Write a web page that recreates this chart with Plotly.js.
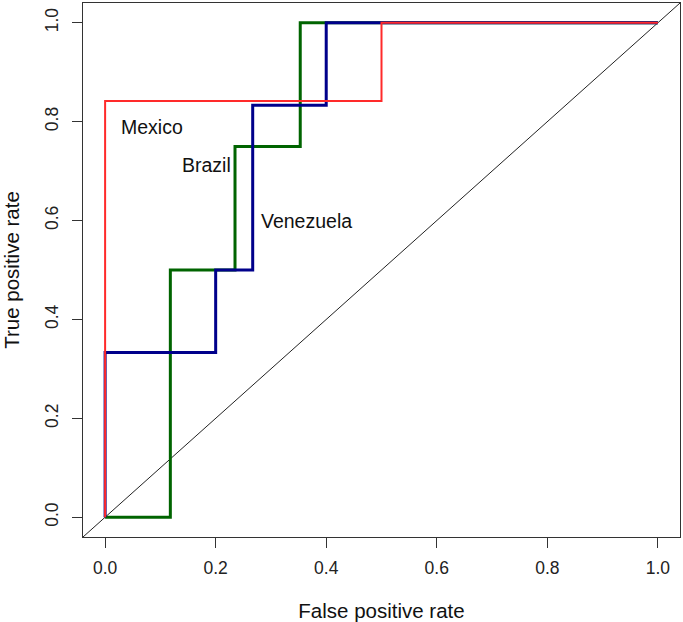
<!DOCTYPE html>
<html>
<head>
<meta charset="utf-8">
<script src="https://cdn.plot.ly/plotly-3.0.1.min.js"></script>
<style>html,body{margin:0;padding:0;background:#fff;}#chart{width:683px;height:622px;}</style>
</head>
<body>
<div id="chart"></div>
<script>
// ROC curve step points (false positive rate, true positive rate)
const mexicoFPR = [0, 0, 0.5, 0.5, 1];
const mexicoTPR = [0, 0.842, 0.842, 1, 1];

const venezuelaFPR = [0, 0, 0.2, 0.2, 0.267, 0.267, 0.4, 0.4, 1];
const venezuelaTPR = [0, 0.333, 0.333, 0.5, 0.5, 0.833, 0.833, 1, 1];

const brazilFPR = [0, 0.118, 0.118, 0.235, 0.235, 0.353, 0.353, 1];
const brazilTPR = [0, 0, 0.5, 0.5, 0.75, 0.75, 1, 1];

const diagX = [-0.04, 1.04];
const diagY = [-0.04, 1.04];

const labelNames = ["Mexico", "Brazil", "Venezuela"];
const labelX = [0.025, 0.135, 0.279];
const labelY = [0.789, 0.712, 0.599];

const tickVals = [0, 0.2, 0.4, 0.6, 0.8, 1];
const tickText = ["0.0", "0.2", "0.4", "0.6", "0.8", "1.0"];

const font = "Liberation Sans, Arial, sans-serif";

const traces = [
  {x: diagX, y: diagY, mode: "lines", line: {color: "#222222", width: 1}, hoverinfo: "skip"},
  {x: brazilFPR, y: brazilTPR, mode: "lines", name: "Brazil", line: {color: "#006400", width: 3}},
  {x: venezuelaFPR, y: venezuelaTPR, mode: "lines", name: "Venezuela", line: {color: "#00008B", width: 3}},
  {x: mexicoFPR, y: mexicoTPR, mode: "lines", name: "Mexico", line: {color: "#ff2a2a", width: 2}}
];

const annotations = labelNames.map((t, i) => ({
  x: labelX[i], y: labelY[i], xref: "x", yref: "y", text: t, showarrow: false,
  xanchor: "left", yanchor: "middle", font: {family: font, size: 19.5, color: "#111"}
}));

const axisCommon = {
  range: [-0.04, 1.04], tickvals: tickVals, ticktext: tickText,
  ticks: "outside", ticklen: 10, tickwidth: 1, tickcolor: "#333",
  showline: true, linecolor: "#333", linewidth: 1, mirror: true,
  showgrid: false, zeroline: false,
  tickfont: {family: font, size: 17.5, color: "#222"}
};

const layout = {
  width: 683, height: 622,
  margin: {l: 83, r: 3, t: 3, b: 85},
  paper_bgcolor: "#fff", plot_bgcolor: "#fff",
  showlegend: false,
  xaxis: Object.assign({}, axisCommon, {
    ticklabelstandoff: 5,
    title: {text: "False positive rate", font: {family: font, size: 20.5, color: "#111"}, standoff: 26}
  }),
  yaxis: Object.assign({}, axisCommon, {
    tickangle: -90,
    ticklabelstandoff: 7,
    title: {text: "True positive rate", font: {family: font, size: 20.5, color: "#111"}, standoff: 22}
  }),
  annotations: annotations
};

Plotly.newPlot("chart", traces, layout, {displayModeBar: false, staticPlot: true});
</script>
</body>
</html>
